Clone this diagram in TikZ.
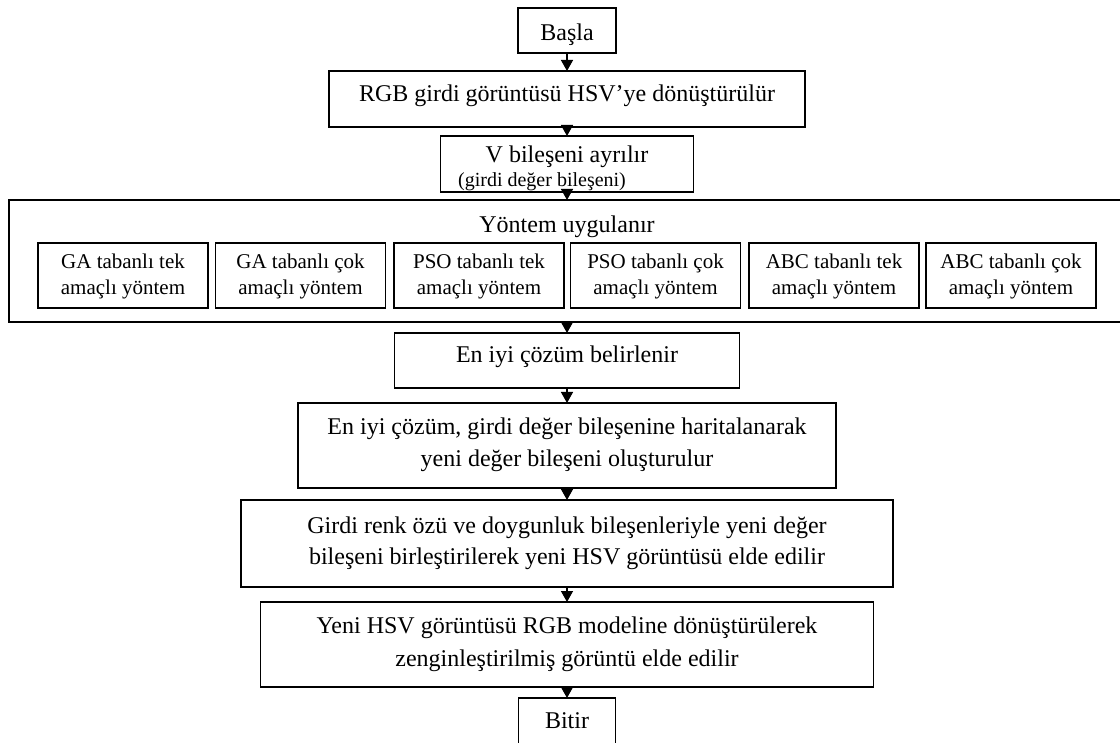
\documentclass[tikz,border=0pt]{standalone}
\usepackage{fontspec}
\setmainfont{Liberation Serif}
\usetikzlibrary{arrows.meta}
\begin{document}
\begin{tikzpicture}[x=1pt,y=-1pt,
  box/.style={draw=black, line width=1.5pt, inner sep=0pt, outer sep=0pt},
  txt/.style={anchor=base, inner sep=0pt, font=\fontsize{24}{30}\selectfont},
  small/.style={anchor=base, inner sep=0pt, font=\fontsize{21}{26}\selectfont},
  note/.style={anchor=base, inner sep=0pt, font=\fontsize{20}{24}\selectfont},
  arr/.style={-{Triangle[length=11pt,width=12pt]}, line width=1.4pt, draw=black}]
\useasboundingbox (0,0) rectangle (1120,743);
% boxes
\node[box, minimum width=98pt, minimum height=45pt] (basla) at (567,30.5) {};
\node[txt] (baslat) at (567,41) {Başla};
\node[box, minimum width=476pt, minimum height=56pt] (rgb) at (567,99) {};
\node[txt] (rgbt) at (567,102) {RGB girdi görüntüsü HSV’ye dönüştürülür};
\node[box, minimum width=253pt, minimum height=56pt] (vbox) at (567,164) {};
\node[txt] (vt1) at (567,163) {V bileşeni ayrılır};
\node[note] (vt2) at (542,186.5) {(girdi değer bileşeni)};
\node[box, minimum width=1116pt, minimum height=122pt] (big) at (567,261) {};
\node[txt] (bigt) at (567,233) {Yöntem uygulanır};
\foreach \i/\cx/\m/\k in {1/123/GA/tek, 2/300.5/GA/çok, 3/479/PSO/tek, 4/655.5/PSO/çok, 5/834/ABC/tek, 6/1011/ABC/çok}{
  \node[box, minimum width=170pt, minimum height=65pt] (s\i) at (\cx,275.5) {};
  \node[small] (s\i a) at (\cx,269) {\m{} tabanlı \k};
  \node[small] (s\i b) at (\cx,295) {amaçlı yöntem};
}
\node[box, minimum width=345pt, minimum height=55pt] (best) at (567,360.5) {};
\node[txt] (bestt) at (567,363) {En iyi çözüm belirlenir};
\node[box, minimum width=538pt, minimum height=85pt] (map) at (567,445.5) {};
\node[txt] (mapa) at (567,435) {En iyi çözüm, girdi değer bileşenine haritalanarak};
\node[txt] (mapb) at (567,467) {yeni değer bileşeni oluşturulur};
\node[box, minimum width=652pt, minimum height=87pt] (merge) at (567,543.5) {};
\node[txt] (mergea) at (567,533) {Girdi renk özü ve doygunluk bileşenleriyle yeni değer};
\node[txt] (mergeb) at (567,564) {bileşeni birleştirilerek yeni HSV görüntüsü elde edilir};
\node[box, minimum width=613pt, minimum height=85pt] (conv) at (567,644.5) {};
\node[txt] (conva) at (567,633) {Yeni HSV görüntüsü RGB modeline dönüştürülerek};
\node[txt] (convb) at (567,666) {zenginleştirilmiş görüntü elde edilir};
\node[box, minimum width=97pt, minimum height=46pt] (bitir) at (567,721) {};
\node[txt] (bitirt) at (567,728) {Bitir};
% connectors
\draw[arr] (basla.south) -- (rgb.north);
\draw[arr] (rgb.south) -- (vbox.north);
\draw[arr] (vbox.south) -- (vbox.south |- big.north);
\draw[arr] (best.north |- big.south) -- (best.north);
\draw[arr] (best.south) -- (map.north);
\draw[arr] (map.south) -- (merge.north);
\draw[arr] (merge.south) -- (conv.north);
\draw[arr] (conv.south) -- (bitir.north);
\end{tikzpicture}
\end{document}
